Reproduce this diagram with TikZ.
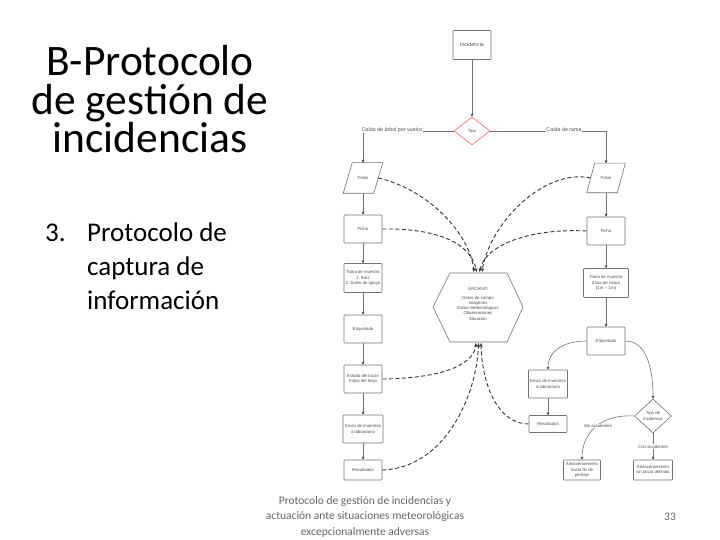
\documentclass[tikz,border=0pt]{standalone}
\usepackage{fontspec}
\setmainfont{Carlito}
\newfontfamily\diag{Liberation Sans}
\usetikzlibrary{shapes.geometric,arrows.meta,calc}
\begin{document}
\begin{tikzpicture}[x=1pt,y=-1pt,
  dfont/.style={font=\diag\fontsize{4.3}{5.2}\selectfont, text=black!70},
  box/.style={dfont, draw=black!55, line width=0.6pt, rounded corners=0.8pt, minimum width=38pt, minimum height=28pt, inner sep=1pt, align=center},
  plain/.style={box, draw=none},
  dia/.style={dfont, diamond, draw=black!55, line width=0.6pt, inner sep=0pt, align=center},
  flow/.style={black!55, line width=0.6pt, -{Stealth[length=3pt,width=2.6pt,black!80]}},
  dashflow/.style={black!80, line width=0.9pt, dash pattern=on 4pt off 2.5pt, -{Stealth[length=4pt,width=3.2pt]}},
  lbl/.style={dfont, fill=white, inner sep=0.5pt},
  biglbl/.style={lbl, font=\diag\fontsize{5.3}{6}\selectfont},
  slide/.style={inner sep=0pt}
]
\useasboundingbox (0,0) rectangle (720,540);
\fill[white] (0,0) rectangle (720,540);

% slide texts (base anchor of a multi-line node = last line's baseline)
\node[slide, font=\fontsize{43.5}{38.5}\selectfont, align=center, anchor=base] (title) at (150,153) {B-Protocolo\\de gestión de\\incidencias};
\node[slide, font=\fontsize{27}{34}\selectfont, anchor=base west] (num) at (45,241) {3.};
\node[slide, font=\fontsize{27}{34}\selectfont, align=left, anchor=base west] (sub) at (87,309) {Protocolo de\\captura de\\información};
\node[slide, font=\fontsize{11.5}{15.5}\selectfont, text=black!60, align=center, anchor=base] (foot) at (365,535) {Protocolo de gestión de incidencias y\\actuación ante situaciones meteorológicas\\excepcionalmente adversas};
\node[slide, font=\fontsize{11.5}{15.5}\selectfont, text=black!60, anchor=base] (pg) at (670,520) {33};

% top
\node[box, minimum height=29pt, font=\diag\fontsize{5.3}{6}\selectfont] (inc) at (472,45) {Incidencia};
\node[dia, draw=red!60, minimum width=36pt, minimum height=28pt] (tipo) at (472,131) {Tipo};

% left column
\node[plain, minimum width=30pt, minimum height=30pt] (fotL) at (363,178) {Fotos};
\draw[black!55, line width=0.6pt] ([xshift=4.5pt]fotL.north west) -- ([xshift=4.5pt]fotL.north east) -- ([xshift=-4.5pt]fotL.south east) -- ([xshift=-4.5pt]fotL.south west) -- cycle;
\node[box] (fichaL) at (363,229) {Ficha};
\node[box, minimum height=29pt] (tomaL) at (363,278) {Toma de muestra\\1.~Raíz\\2.~Suelo de apoyo};
\node[box] (etiqL) at (363,329) {Etiquetado};
\node[box] (estL) at (363,379) {Estado del tocón\\Fotos del hoyo};
\node[box, minimum width=40pt] (envL) at (363,429) {Envío de muestras\\a laboratorio};
\node[box, minimum height=20pt] (resL) at (363,470) {Resultados};

% right column
\node[plain, minimum width=30pt, minimum height=29pt] (fotR) at (606,178) {Fotos};
\draw[black!55, line width=0.6pt] ([xshift=4pt]fotR.north west) -- ([xshift=4pt]fotR.north east) -- ([xshift=-4pt]fotR.south east) -- ([xshift=-4pt]fotR.south west) -- cycle;
\node[box] (fichaR) at (606,231) {Ficha};
\node[box, minimum width=45pt, minimum height=29pt] (tomaR) at (606,283) {Toma de muestra\\Zona de rotura\\{[1m -- 1m]}};
\node[box] (etiqR) at (606,341) {Etiquetado};
\node[box, minimum width=39pt] (envR) at (548,384) {Envío de muestras\\a laboratorio};
\node[box, minimum height=17pt] (resR) at (548,424) {Resultados};
\node[dia, minimum width=37pt, minimum height=34pt] (tinc) at (653,416) {Tipo de\\incidencia};
\node[box, minimum width=37pt, minimum height=20pt] (almA) at (582,470) {Almacenamiento\\hasta fin de\\peritaje};
\node[box, minimum width=39pt, minimum height=20pt] (almB) at (653,470) {Almacenamiento\\sin plazo definido};

% archive hexagon
\coordinate (hw) at (433,307);
\coordinate (hnw) at (450,273);
\coordinate (hne) at (507,273);
\coordinate (he) at (523,307);
\coordinate (hse) at (507,342);
\coordinate (hsw) at (450,342);
\draw[black!55, line width=0.6pt] (hw) -- (hnw) -- (hne) -- (he) -- (hse) -- (hsw) -- cycle;
\node[dfont, align=center, font=\diag\fontsize{4.3}{5.3}\selectfont] (arch) at (478,304) {ARCHIVO\\[3pt]Datos de campo\\Imágenes\\Datos meteorológicos\\Observaciones\\Situación};

% end points on hexagon
\coordinate (h1) at (474,272);
\coordinate (h2) at (476.5,272);
\coordinate (h3) at (479.5,272);
\coordinate (h4) at (482,272);
\coordinate (b1) at (476,343);
\coordinate (b2) at (478.5,343);
\coordinate (b3) at (481,343);

% top connectors
\coordinate (cL) at (363,131);
\coordinate (cR) at (606,131);
\draw[flow] (inc) -- (tipo);
\draw[flow] (tipo.west) -- (cL) -- (fotL.north);
\draw[flow] (tipo.east) -- (cR) -- (fotR.north);
\node[biglbl] (lblL) at (392,130) {Caída de árbol por vuelco};
\node[biglbl] (lblR) at (564,130) {Caída de rama};

% column flows
\draw[flow] (fotL.south) -- (fichaL);
\draw[flow] (fichaL) -- (tomaL);
\draw[flow] (tomaL) -- (etiqL);
\draw[flow] (etiqL) -- (estL);
\draw[flow] (estL) -- (envL);
\draw[flow] (envL) -- (resL);
\draw[flow] (fotR.south) -- (fichaR);
\draw[flow] (fichaR) -- (tomaR);
\draw[flow] (tomaR) -- (etiqR);
\draw[flow] (etiqR.west) .. controls (565,341) and (548,350) .. (envR.north);
\draw[flow] (etiqR.east) .. controls (648,341) and (653,372) .. (tinc.north);
\draw[flow] (envR) -- (resR);
\draw[flow] (tinc.west) .. controls (598,414) and (582,435) .. (almA.north);
\draw[flow] (tinc.south) -- (almB.north) node[lbl, midway] (lcon) {Con accidentes};
\node[lbl] (lsin) at (598,426) {Sin accidentes};

% dashed archive links
\draw[dashflow] (fotL.east) .. controls (430,190) and (470,235) .. (h1);
\draw[dashflow] (fichaL.east) .. controls (440,228) and (472,245) .. (h2);
\draw[dashflow] (fichaR.west) .. controls (530,228) and (485,245) .. (h3);
\draw[dashflow] (fotR.west) .. controls (545,168) and (490,222) .. (h4);
\draw[dashflow] (estL.east) .. controls (450,378) and (474,362) .. (b1);
\draw[dashflow] (resL.east) .. controls (445,468) and (477,395) .. (b2);
\draw[dashflow] (resR.west) .. controls (498,424) and (482,385) .. (b3);
\end{tikzpicture}
\end{document}
